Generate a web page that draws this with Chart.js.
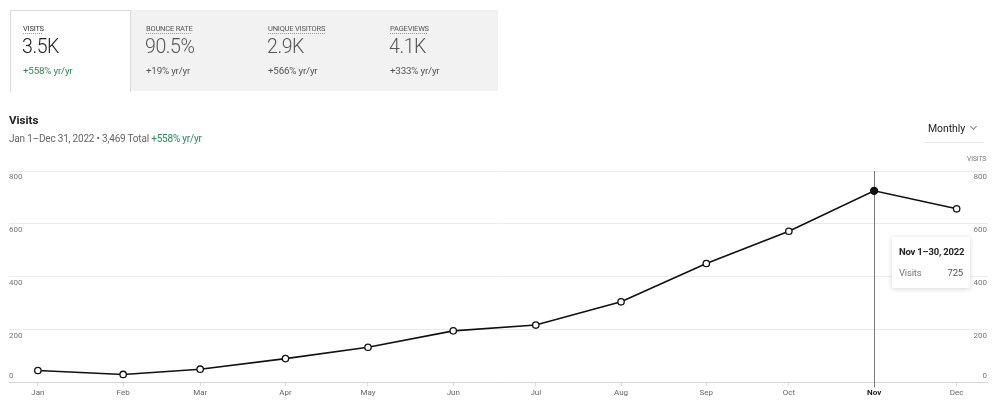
<!DOCTYPE html>
<html>
<head>
<meta charset="utf-8">
<script src="https://cdn.jsdelivr.net/npm/chart.js@4"></script>
<style>
  html, body { margin: 0; padding: 0; background: #fff; }
  body { width: 1000px; height: 405px; position: relative; overflow: hidden; font-family: Roboto, "Noto Sans", sans-serif; color: #222; }
  #myChart { position: absolute; left: 0; top: 0; }
  .abs { position: absolute; white-space: nowrap; }
  .cards { left: 10px; top: 10px; width: 488px; height: 81px; background: #f2f2f2; }
  .card-active { left: 10px; top: 10px; width: 119px; height: 81px; background: #fff; border: 1px solid #dcdcdc; border-bottom: none; }
  .lbl { font-size: 7.5px; color: #555; text-decoration: underline dotted #999; text-underline-offset: 2px; letter-spacing: -0.2px; }
  .big { font-size: 19.5px; color: #555; font-weight: 300; letter-spacing: -0.4px; }
  .chg { font-size: 9.8px; color: #555; letter-spacing: -0.2px; }
  .green { color: #2b8a5a; }
  .title { left: 9px; top: 113px; font-size: 11.5px; font-weight: 700; color: #222; }
  .sub { left: 9px; top: 133px; font-size: 10px; color: #666; letter-spacing: -0.2px; }
  .monthly { left: 928px; top: 122px; font-size: 10.5px; color: #222; letter-spacing: -0.1px; }
  .chev { left: 971px; top: 124px; width: 4px; height: 4px; border-right: 1px solid #888; border-bottom: 1px solid #888; transform: rotate(45deg); }
  .uline { left: 924px; top: 142px; width: 60px; height: 1px; background: #ececec; }
  .ylab { left: 967px; top: 155px; font-size: 6.5px; color: #777; }
  .tip { left: 892px; top: 237px; width: 78px; height: 51px; background: #fff; box-shadow: 0 1px 5px rgba(0,0,0,0.16); font-size: 9.5px; letter-spacing: -0.2px; }
</style>
</head>
<body>
<canvas id="myChart" width="1000" height="405"></canvas>

<div class="abs cards"></div>
<div class="abs card-active"></div>

<div class="abs lbl" style="left:23px;top:24px;color:#333">VISITS</div>
<div class="abs big" style="left:22px;top:35px;color:#222">3.5K</div>
<div class="abs chg green" style="left:23px;top:65px">+558% yr/yr</div>

<div class="abs lbl" style="left:146px;top:24px">BOUNCE RATE</div>
<div class="abs big" style="left:145px;top:35px">90.5%</div>
<div class="abs chg" style="left:146px;top:65px">+19% yr/yr</div>

<div class="abs lbl" style="left:268px;top:24px">UNIQUE VISITORS</div>
<div class="abs big" style="left:267px;top:35px">2.9K</div>
<div class="abs chg" style="left:268px;top:65px">+566% yr/yr</div>

<div class="abs lbl" style="left:390px;top:24px">PAGEVIEWS</div>
<div class="abs big" style="left:389px;top:35px">4.1K</div>
<div class="abs chg" style="left:390px;top:65px">+333% yr/yr</div>

<div class="abs title">Visits</div>
<div class="abs sub">Jan 1–Dec 31, 2022 • 3,469 Total <span class="green">+558% yr/yr</span></div>
<div class="abs monthly">Monthly</div>
<div class="abs chev"></div>
<div class="abs uline"></div>
<div class="abs ylab">VISITS</div>

<div class="abs tip">
  <div class="abs" style="left:7px;top:9px;font-weight:700;color:#222">Nov 1–30, 2022</div>
  <div class="abs" style="left:7px;top:30px;color:#777">Visits</div>
  <div class="abs" style="right:7px;top:30px;color:#555">725</div>
</div>

<script>
const months = ['Jan', 'Feb', 'Mar', 'Apr', 'May', 'Jun', 'Jul', 'Aug', 'Sep', 'Oct', 'Nov', 'Dec'];
// day of year for the 1st of each month (2022)
const monthStartDay = [0, 31, 59, 90, 120, 151, 181, 212, 243, 273, 304, 334];
const visits = [45, 30, 50, 90, 133, 195, 217, 305, 450, 572, 725, 657];
const yTicks = [0, 200, 400, 600, 800];
const activeIndex = 10;

const points = months.map((m, i) => ({ x: monthStartDay[i], y: visits[i] }));

// y labels drawn on both sides, under the grid lines
const yLabels = {
  id: 'yLabels',
  afterDraw(chart) {
    const ctx = chart.ctx;
    const ys = chart.scales.y;
    ctx.save();
    ctx.font = '8px Roboto, sans-serif';
    ctx.fillStyle = '#777';
    yTicks.forEach(v => {
      const py = ys.getPixelForValue(v);
      const ty = v === 0 ? py - 10 : py + 2;
      ctx.textBaseline = 'top';
      ctx.textAlign = 'left';
      ctx.fillText(String(v), 9, ty);
      ctx.textAlign = 'right';
      ctx.fillText(String(v), 987, ty);
    });
    ctx.restore();
  }
};

// vertical hover line at the active month
const hoverLine = {
  id: 'hoverLine',
  beforeDatasetsDraw(chart) {
    const ctx = chart.ctx;
    const px = chart.scales.x.getPixelForValue(monthStartDay[activeIndex]);
    ctx.save();
    ctx.strokeStyle = '#7a7a7a';
    ctx.lineWidth = 1;
    ctx.beginPath();
    ctx.moveTo(Math.round(px) + 0.5, chart.chartArea.top);
    ctx.lineTo(Math.round(px) + 0.5, chart.chartArea.bottom + 5);
    ctx.stroke();
    ctx.restore();
  }
};

const ctx = document.getElementById('myChart');

new Chart(ctx, {
  type: 'line',
  data: {
    datasets: [
      {
        label: 'Visits',
        data: points,
        borderColor: '#111',
        borderWidth: 1.6,
        tension: 0,
        pointRadius: c => c.dataIndex === activeIndex ? 3.5 : 3.2,
        pointBorderWidth: 1.3,
        pointBorderColor: '#111',
        pointBackgroundColor: c => c.dataIndex === activeIndex ? '#111' : '#fff'
      }
    ]
  },
  options: {
    responsive: false,
    animation: false,
    events: [],
    layout: { padding: { left: 9, right: 12, top: 171, bottom: 5 } },
    plugins: { legend: { display: false }, tooltip: { enabled: false } },
    scales: {
      x: {
        type: 'linear',
        min: -10.5,
        max: 345.4,
        afterBuildTicks: axis => { axis.ticks = monthStartDay.map(v => ({ value: v })); },
        ticks: {
          autoSkip: false,
          maxRotation: 0,
          padding: 2,
          callback: v => months[monthStartDay.indexOf(v)],
          font: c => ({ family: 'Roboto, sans-serif', size: 8, weight: c.index === activeIndex ? 'bold' : 'normal' }),
          color: c => c.index === activeIndex ? '#222' : '#666'
        },
        grid: { drawOnChartArea: false, tickLength: 4, color: '#ddd' },
        border: { display: false }
      },
      y: {
        min: 0,
        max: 800,
        afterBuildTicks: axis => { axis.ticks = yTicks.map(v => ({ value: v })); },
        ticks: { display: false },
        grid: {
          drawTicks: false,
          color: c => c.tick && c.tick.value === 0 ? '#d6d6d6' : '#ececec'
        },
        border: { display: false }
      }
    }
  },
  plugins: [hoverLine, yLabels]
});
</script>
</body>
</html>
